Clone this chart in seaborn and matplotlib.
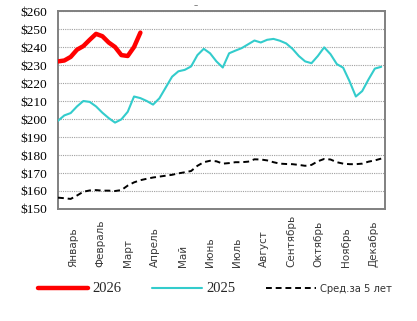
import numpy as np
import pandas as pd
import matplotlib
matplotlib.use("Agg")
import matplotlib.pyplot as plt
import seaborn as sns

months = ["Январь", "Февраль", "Март", "Апрель", "Май", "Июнь", "Июль",
          "Август", "Сентябрь", "Октябрь", "Ноябрь", "Декабрь"]
y_ticks = [150, 160, 170, 180, 190, 200, 210, 220, 230, 240, 250, 260]

# weekly prices
price_2026 = [232, 232.5, 234.5, 238.5, 240.5, 244, 247.3, 246, 242.5, 240,
              235.5, 235, 240, 248]
price_2025 = [199, 202, 203.3, 207, 210, 209.5, 207, 203.5, 200.5, 198,
              199.8, 204, 212.5, 211.6, 210, 208, 211.5, 217.5, 223.5, 226.5,
              227.3, 229.2, 235.5, 239, 236.5, 232, 228.6, 236.5, 238, 239.4,
              241.5, 243.6, 242.5, 244, 244.5, 243.5, 242, 239, 235, 232,
              231, 235, 239.8, 236, 230.5, 228.5, 221, 212.5, 215.5, 222,
              228, 229]
avg_5y = [156.3, 156, 155.6, 157.5, 159.6, 160.3, 160.5, 160.2, 160.2, 160,
          160.5, 163, 164.8, 166, 166.8, 167.5, 168, 168.5, 169, 169.8,
          170.4, 171.1, 174, 176, 176.8, 176.5, 175.2, 175.5, 176, 176,
          176.3, 177.6, 177.5, 177, 176, 175.2, 175, 174.9, 174.5, 174,
          174.5, 176.5, 177.8, 177.5, 176, 175.2, 174.9, 174.9, 175.2, 176.3,
          177, 178]

sns.set_theme(style="white")
plt.rcParams['font.family'] = ['DejaVu Sans']

fig = plt.figure(figsize=(4.17, 3.21), dpi=100)
ax = fig.add_axes([58/417, 1-209/321, (385-58)/417, (209-11)/321])

d26 = pd.DataFrame({"week": np.arange(len(price_2026)), "price": price_2026})
d25 = pd.DataFrame({"week": np.arange(len(price_2025)), "price": price_2025})
dav = pd.DataFrame({"week": np.arange(len(avg_5y)), "price": avg_5y})

sns.lineplot(data=d26, x="week", y="price", ax=ax, color="#ff0000", lw=3.2,
             label="2026", solid_capstyle="round", zorder=5)
sns.lineplot(data=d25, x="week", y="price", ax=ax, color="#33cccc", lw=1.5,
             label="2025", zorder=4)
sns.lineplot(data=dav, x="week", y="price", ax=ax, color="black", lw=1.4,
             linestyle=(0, (3, 2)), label="Сред.за 5 лет", zorder=3)

ax.set_xlim(0, 51.6)
ax.set_ylim(150, 260)
ax.set_yticks(y_ticks)
ax.set_yticklabels([f"${v}" for v in y_ticks], family="Liberation Serif",
                   fontsize=9.6, color="black")
ax.yaxis.grid(True, color="#a0a0a0", linestyle=(0, (1, 1)), lw=0.8)
ax.xaxis.grid(False)
ax.set_xlabel("")
ax.set_ylabel("")

w = 51.6 / 12
ax.set_xticks([(i + 0.5) * w + 0.3 for i in range(12)])
ax.set_xticklabels(months, rotation=90, fontsize=7.5, color="#3a3a3a",
                   family="DejaVu Sans")
for t in ax.get_xticklabels():
    t.set_va("bottom")
ax.tick_params(axis="x", length=0, pad=42)
ax.tick_params(axis="y", length=0, pad=8)

for s in ax.spines.values():
    s.set_color("#808080")
    s.set_linewidth(1.4)

leg = ax.legend(loc="center", bbox_to_anchor=(215/417, 1 - 289/321),
                bbox_transform=fig.transFigure, ncol=3, frameon=False,
                handlelength=3.6, columnspacing=2.2, handletextpad=0.3,
                fontsize=10)
texts = leg.get_texts()
for t in texts[:2]:
    t.set_family("Liberation Serif")
    t.set_fontsize(10.5)
texts[2].set_family("DejaVu Sans")
texts[2].set_fontsize(7.2)
texts[2].set_color("#333333")

fig.text(196/417, 1 - 6/321, "–", fontsize=6, color="#666666",
         ha="center", va="center")

fig.savefig("out.png", dpi=100)
